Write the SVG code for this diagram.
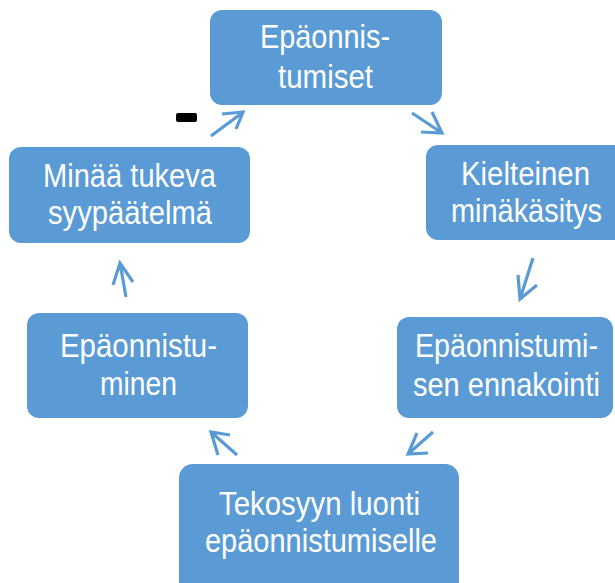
<svg xmlns="http://www.w3.org/2000/svg" width="615" height="583" viewBox="0 0 615 583">
  <style>
    .box { fill: #5B9BD5; }
    .lbl { font-family: "Liberation Sans", Arial, sans-serif; font-size: 33px; fill: #ffffff; text-anchor: middle; }
    .arr { fill: none; stroke: #5B9BD5; stroke-width: 3.2; stroke-linecap: butt; stroke-linejoin: miter; }
  </style>
  <rect width="615" height="583" fill="#ffffff"/>

  <!-- cycle connectors: straight shafts with open V heads -->
  <g id="connectors">
    <path class="arr" d="M211,136 L242,113 M222,114 L243,112 L236,129"/>
    <path class="arr" d="M412,113 L442,133 M432,112 L442,133 L421,132"/>
    <path class="arr" d="M533,258 L520,299 M518,275 L520,299 L537,285"/>
    <path class="arr" d="M433,432 L408,454 M417,433 L408,454 L428,453"/>
    <path class="arr" d="M237,455 L211,432 M230,435 L211,432 L218,455"/>
    <path class="arr" d="M126,297 L120,263 M113,285 L120,263 L133,282"/>
  </g>

  <g id="n-epaonnistumiset">
    <rect class="box" x="210" y="10" width="232" height="95" rx="12"/>
    <text class="lbl" x="325" y="48" textLength="130" lengthAdjust="spacingAndGlyphs">Epäonnis-</text>
    <text class="lbl" x="325.5" y="88" textLength="95" lengthAdjust="spacingAndGlyphs">tumiset</text>
  </g>

  <g id="n-kielteinen">
    <rect class="box" x="426" y="145" width="205" height="95" rx="12"/>
    <text class="lbl" x="525.5" y="185" textLength="129" lengthAdjust="spacingAndGlyphs">Kielteinen</text>
    <text class="lbl" x="526.5" y="222" textLength="151" lengthAdjust="spacingAndGlyphs">minäkäsitys</text>
  </g>

  <g id="n-ennakointi">
    <rect class="box" x="397" y="317" width="216" height="101" rx="12"/>
    <text class="lbl" x="506.5" y="357" textLength="183" lengthAdjust="spacingAndGlyphs">Epäonnistumi-</text>
    <text class="lbl" x="506.5" y="396" textLength="187" lengthAdjust="spacingAndGlyphs">sen ennakointi</text>
  </g>

  <g id="n-tekosyy">
    <rect class="box" x="179" y="464" width="280" height="135" rx="14"/>
    <text class="lbl" x="319.5" y="515" textLength="201" lengthAdjust="spacingAndGlyphs">Tekosyyn luonti</text>
    <text class="lbl" x="321" y="552" textLength="232" lengthAdjust="spacingAndGlyphs">epäonnistumiselle</text>
  </g>

  <g id="n-epaonnistuminen">
    <rect class="box" x="27" y="313" width="221" height="105" rx="12"/>
    <text class="lbl" x="138.5" y="357" textLength="157" lengthAdjust="spacingAndGlyphs">Epäonnistu-</text>
    <text class="lbl" x="138.5" y="395" textLength="77" lengthAdjust="spacingAndGlyphs">minen</text>
  </g>

  <g id="n-syypaatelma">
    <rect class="box" x="9" y="147" width="241" height="96" rx="12"/>
    <text class="lbl" x="129.5" y="187" textLength="173" lengthAdjust="spacingAndGlyphs">Minää tukeva</text>
    <text class="lbl" x="130" y="224" textLength="164" lengthAdjust="spacingAndGlyphs">syypäätelmä</text>
  </g>

  <!-- stray dash mark -->
  <rect x="176" y="113" width="21" height="9" rx="2" fill="#000000"/>
</svg>
